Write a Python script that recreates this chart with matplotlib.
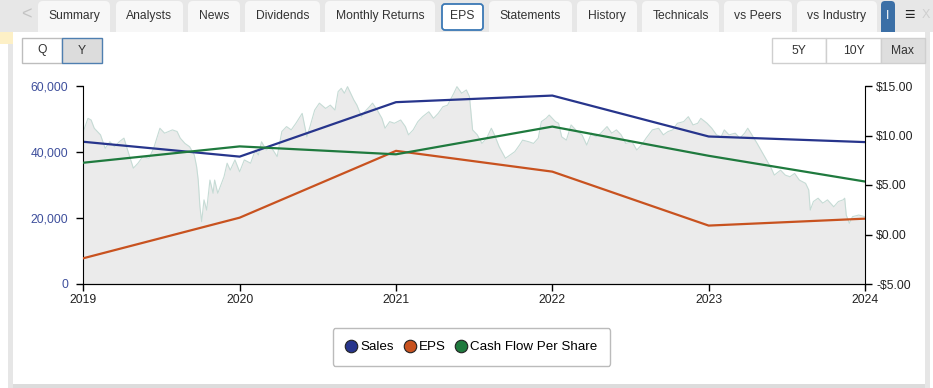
import matplotlib
matplotlib.use("Agg")
import matplotlib.pyplot as plt
from matplotlib.patches import FancyBboxPatch, Rectangle
from matplotlib.lines import Line2D
from matplotlib.ticker import FuncFormatter

plt.rcParams['font.family'] = ['Liberation Sans', 'DejaVu Sans']

# yearly fundamentals
years = [2019, 2020, 2021, 2022, 2023, 2024]
sales = [43100, 38600, 55100, 57100, 44700, 43000]
eps = [-2.40, 1.70, 8.45, 6.35, 0.90, 1.60]
cash_flow = [7.25, 8.90, 8.10, 10.90, 7.95, 5.35]

# background share price (arbitrary units)
price_t = [2019.00, 2019.03, 2019.05, 2019.07, 2019.11, 2019.14, 2019.17, 2019.20,
           2019.23, 2019.26, 2019.28, 2019.32, 2019.35, 2019.38, 2019.42, 2019.45,
           2019.49, 2019.52, 2019.57, 2019.60, 2019.62, 2019.65, 2019.68, 2019.71,
           2019.725, 2019.735, 2019.746, 2019.757, 2019.772, 2019.789, 2019.81, 2019.83,
           2019.84, 2019.86, 2019.90, 2019.92, 2019.94, 2019.97, 2020.00, 2020.03,
           2020.07, 2020.10, 2020.12, 2020.14, 2020.17, 2020.20, 2020.24, 2020.27,
           2020.30, 2020.33, 2020.36, 2020.40, 2020.43, 2020.45, 2020.48, 2020.51,
           2020.55, 2020.58, 2020.61, 2020.63, 2020.65, 2020.67, 2020.69, 2020.73,
           2020.75, 2020.78, 2020.80, 2020.83, 2020.85, 2020.88, 2020.91, 2020.93,
           2020.96, 2020.99, 2021.03, 2021.06, 2021.08, 2021.11, 2021.14, 2021.17,
           2021.21, 2021.24, 2021.27, 2021.30, 2021.33, 2021.37, 2021.39, 2021.42,
           2021.45, 2021.47, 2021.48, 2021.49, 2021.52, 2021.55, 2021.58, 2021.61,
           2021.63, 2021.66, 2021.70, 2021.73, 2021.76, 2021.79, 2021.81, 2021.85,
           2021.88, 2021.91, 2021.93, 2021.96, 2021.98, 2022.02, 2022.04, 2022.06,
           2022.09, 2022.12, 2022.16, 2022.19, 2022.22, 2022.25, 2022.28, 2022.31,
           2022.35, 2022.38, 2022.41, 2022.44, 2022.47, 2022.51, 2022.54, 2022.57,
           2022.60, 2022.64, 2022.68, 2022.71, 2022.74, 2022.77, 2022.80, 2022.84,
           2022.87, 2022.90, 2022.93, 2022.95, 2022.99, 2023.02, 2023.05, 2023.08,
           2023.10, 2023.13, 2023.17, 2023.20, 2023.23, 2023.25, 2023.27, 2023.31,
           2023.34, 2023.37, 2023.40, 2023.42, 2023.46, 2023.49, 2023.52, 2023.55,
           2023.58, 2023.62, 2023.64, 2023.65, 2023.67, 2023.70, 2023.73, 2023.76,
           2023.80, 2023.83, 2023.86, 2023.87, 2023.88, 2023.90, 2023.92, 2023.96,
           2024.00]
price = [46.2, 50.2, 49.7, 47.2, 45.2, 41.1, 43.1, 41.6,
         43.1, 44.2, 41.1, 35.1, 36.6, 38.6, 38.1, 41.1,
         47.2, 45.7, 46.7, 46.2, 44.2, 42.6, 41.6, 39.1,
         35.5, 31.5, 23.4, 18.9, 25.5, 22.4, 31.5, 27.5,
         31.5, 27.5, 32.5, 36.6, 34.5, 37.6, 34.0, 37.6,
         36.6, 40.6, 39.1, 43.1, 40.6, 41.6, 38.6, 46.2,
         47.7, 46.7, 48.7, 51.7, 44.6, 47.7, 52.7, 54.8,
         53.2, 54.2, 52.7, 58.3, 59.3, 57.8, 59.8, 55.8,
         54.2, 50.7, 52.2, 53.7, 54.8, 52.7, 50.2, 47.2,
         49.2, 48.7, 49.7, 47.7, 45.2, 46.7, 49.2, 50.7,
         52.2, 50.2, 51.7, 53.7, 54.2, 57.8, 59.8, 57.8,
         58.8, 56.8, 51.7, 46.7, 45.2, 42.6, 44.2, 47.2,
         45.2, 41.6, 38.1, 39.1, 40.1, 42.1, 43.6, 43.1,
         42.6, 44.2, 49.2, 50.2, 51.2, 49.2, 48.7, 44.6,
         43.6, 48.2, 46.2, 45.2, 42.1, 45.7, 44.6, 45.7,
         47.7, 45.7, 46.7, 45.2, 42.6, 43.1, 40.6, 42.1,
         44.2, 46.7, 47.2, 45.2, 46.2, 46.7, 48.7, 49.2,
         50.7, 48.2, 48.7, 50.2, 48.7, 47.2, 45.2, 44.6,
         46.7, 45.2, 45.7, 44.2, 45.7, 47.2, 45.7, 42.6,
         40.1, 37.6, 35.1, 33.0, 34.5, 33.0, 32.5, 33.5,
         31.5, 30.5, 28.5, 22.4, 25.0, 26.0, 24.5, 25.5,
         23.4, 25.0, 25.5, 26.0, 20.9, 18.4, 20.4, 20.9,
         20.4]

series_names = ["Sales", "EPS", "Cash Flow Per Share"]
tab_names = ["Summary", "Analysts", "News", "Dividends", "Monthly Returns", "EPS",
             "Statements", "History", "Technicals", "vs Peers", "vs Industry"]
tab_x = [(38, 110), (116, 183), (188, 240), (245, 320), (325, 435), (441, 484),
         (489, 572), (577, 637), (642, 719), (724, 792), (797, 877)]

c_sales = '#27358c'
c_eps = '#c8521f'
c_cf = '#1f7a3e'

W, H = 933, 388
fig = plt.figure(figsize=(W / 100, H / 100), dpi=100)

# page chrome in pixel coordinates
ui = fig.add_axes([0, 0, 1, 1], zorder=-5)
ui.set_xlim(0, W)
ui.set_ylim(H, 0)
ui.axis('off')
ui.add_patch(Rectangle((0, 0), W, 32, color='#e7e7e7', lw=0))
ui.text(26, 15, "<", ha='center', va='center', fontsize=13, color='#c4c4c4')
for name, (x0, x1) in zip(tab_names, tab_x):
    if name == "EPS":
        ui.add_patch(FancyBboxPatch((x0 + 1, 4), x1 - x0 - 2, 26,
                                    boxstyle='round,pad=0,rounding_size=3',
                                    fc='white', ec='#3a78b5', lw=1.3))
    else:
        ui.add_patch(FancyBboxPatch((x0, 1), x1 - x0, 40,
                                    boxstyle='round,pad=0,rounding_size=5',
                                    fc='#f7f7f7', ec='none'))
    ui.text((x0 + x1) / 2, 16, name, ha='center', va='center', fontsize=8.7, color='#333333')
ui.add_patch(FancyBboxPatch((881, 1), 14, 40, boxstyle='round,pad=0,rounding_size=4',
                            fc='#3b6fa6', ec='none'))
ui.text(888, 16, "I", ha='center', va='center', fontsize=8.7, color='white')
ui.text(909, 16, "\u2261", ha='center', va='center', fontsize=13, color='#222222', weight='bold')
ui.text(926, 15, "X", ha='center', va='center', fontsize=9, color='#cfcfcf')

ui.add_patch(Rectangle((0, 32), W, H - 32, color='white', lw=0))
ui.add_patch(Rectangle((0, 32), 13, 12, color='#fdf0c6', lw=0))
ui.add_patch(Rectangle((8, 44), 5, H - 44, color='#e6e6e6', lw=0))
ui.add_patch(Rectangle((925, 32), 5, H - 32, color='#e6e6e6', lw=0))
ui.add_patch(Rectangle((13, 384), 912, 4, color='#dcdcdc', lw=0))

# Q / Y and range buttons
buttons = [("Q", 22, 62, 'white', '#bdbdbd'), ("Y", 62, 102, '#dcdcdc', '#4f7fb0'),
           ("5Y", 772, 826, 'white', '#cfcfcf'), ("10Y", 826, 881, 'white', '#cfcfcf'),
           ("Max", 881, 925, '#dedede', '#cfcfcf')]
for label, x0, x1, fc, ec in buttons:
    ui.add_patch(Rectangle((x0, 38), x1 - x0, 25, fc=fc, ec=ec, lw=1))
    ui.text((x0 + x1) / 2, 50.5, label, ha='center', va='center', fontsize=8.7, color='#333333')

# chart axes
rect = [83.3 / W, 104 / H, 781.7 / W, 198 / H]
ax_price = fig.add_axes(rect, zorder=0)
ax_price.fill_between(price_t, price, 0, color='#ebebeb', lw=0)
ax_price.plot(price_t, price, color='#c6dbd5', lw=0.8)
ax_price.set_xlim(2019, 2024)
ax_price.set_ylim(0, 60)
ax_price.axis('off')

ax = fig.add_axes(rect, zorder=1, sharex=ax_price)
ax.patch.set_visible(False)
ax.plot(years, sales, color=c_sales, lw=1.6)
ax.set_ylim(0, 60000)
ax.set_yticks([0, 20000, 40000, 60000])
ax.yaxis.set_major_formatter(FuncFormatter(lambda v, p: f"{v:,.0f}"))
ax.set_xticks(years)
ax.set_xticklabels([str(y) for y in years])
ax.spines['top'].set_visible(False)
ax.spines['right'].set_visible(False)
ax.tick_params(axis='y', direction='out', length=5, width=1, labelsize=8.7,
               labelcolor='#3e4f9c', pad=6)
ax.tick_params(axis='x', direction='out', length=5, width=1, labelsize=8.7,
               labelcolor='#222222', pad=2.5)

ax_eps = ax.twinx()
ax_eps.set_zorder(2)
ax_eps.patch.set_visible(False)
ax_eps.plot(years, eps, color=c_eps, lw=1.6)
ax_eps.plot(years, cash_flow, color=c_cf, lw=1.6)
ax_eps.set_ylim(-5, 15)
ax_eps.set_yticks([-5, 0, 5, 10, 15])
ax_eps.yaxis.set_major_formatter(
    FuncFormatter(lambda v, p: f"-${abs(v):.2f}" if v < 0 else f"${v:.2f}"))
ax_eps.spines['top'].set_visible(False)
ax_eps.spines['left'].set_visible(False)
ax_eps.tick_params(axis='y', direction='out', length=5, width=1, labelsize=8.7,
                   labelcolor='#222222', pad=3)

handles = [Line2D([], [], ls='none', marker='o', markersize=9, markerfacecolor=c,
                  markeredgecolor='#222222', markeredgewidth=0.8)
           for c in (c_sales, c_eps, c_cf)]
leg = fig.legend(handles, series_names, loc='center', ncol=3,
                 bbox_to_anchor=(471.5 / W, 1 - 347.3 / H), fontsize=9.6,
                 handlelength=0.9, handletextpad=0.25, columnspacing=0.7,
                 borderpad=0.95, borderaxespad=0, frameon=True, fancybox=True)
leg.get_frame().set_edgecolor('#aaaaaa')
leg.get_frame().set_linewidth(1.0)

fig.savefig("out.png", dpi=100)
